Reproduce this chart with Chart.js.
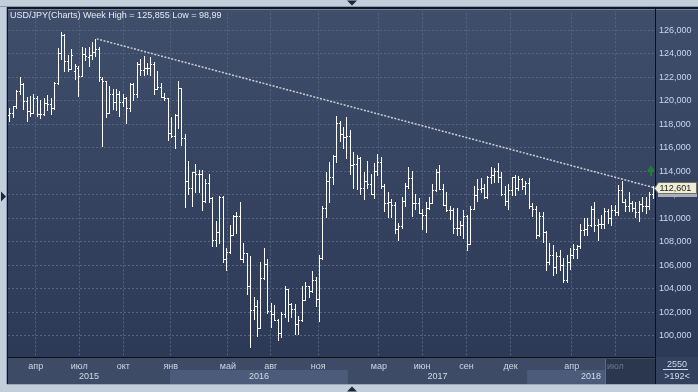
<!DOCTYPE html>
<html><head><meta charset="utf-8">
<script src="https://cdn.jsdelivr.net/npm/chart.js@4.4.1/dist/chart.umd.min.js"></script>
<style>html,body{margin:0;padding:0;background:#c3cedb;overflow:hidden}canvas{display:block}</style>
</head><body><canvas id="c" width="698" height="392"></canvas>
<script>
// ---- data (weekly OHLC, USD/JPY) ----
const opens = [118.8,119.0,119.6,120.8,121.4,120.0,119.1,119.0,120.2,118.9,118.9,119.8,119.7,119.4,121.5,124.1,125.6,123.4,122.7,122.5,
122.8,122.1,124.0,123.7,123.9,124.2,124.4,121.9,121.7,119.0,120.6,119.9,120.6,119.9,120.2,119.4,121.4,120.6,123.1,122.6,
122.8,122.8,123.1,121.0,121.2,120.3,120.2,117.3,117.0,118.8,121.1,116.8,113.2,112.6,113.9,113.8,113.8,111.5,113.0,111.7,
108.1,108.8,111.8,106.5,107.1,108.6,110.2,110.2,106.5,107.0,104.2,102.2,102.5,100.6,104.9,106.1,102.1,101.8,101.3,100.2,
101.8,104.0,102.7,102.3,101.0,101.3,103.0,104.2,103.8,104.7,103.1,106.6,110.9,113.2,113.5,115.3,118.1,117.2,116.9,117.0,
114.5,114.6,115.1,112.6,113.2,112.9,112.1,114.0,114.8,112.7,111.3,111.4,111.1,109.1,109.3,111.5,112.7,113.4,111.3,111.3,
110.4,110.3,110.9,111.3,112.4,113.9,112.5,111.1,110.7,110.7,109.2,109.2,109.4,110.2,107.8,110.8,112.0,112.5,112.6,111.8,
113.5,113.7,114.0,113.5,112.1,111.5,112.4,113.5,112.6,113.3,112.7,113.0,111.0,110.8,108.6,110.2,108.8,106.3,106.9,105.8,
106.8,106.0,104.7,106.3,106.9,107.4,107.6,109.0,109.1,109.4,110.8,109.4,109.5,109.5,110.6,110.0,110.7,110.5,112.4,111.4,
111.0,111.3,110.9,110.5,111.2,111.0,111.0,112.1];
const highs = [119.4,119.6,120.9,122.0,121.5,120.3,120.4,120.6,120.4,120.1,120.2,120.5,120.2,121.6,124.5,125.86,125.7,123.9,124.4,123.1,
123.0,124.6,124.5,124.6,125.0,125.28,124.6,122.0,121.7,121.3,121.0,121.0,120.8,120.6,120.3,121.5,121.5,123.3,123.6,123.8,
123.2,123.7,123.3,122.5,121.5,120.7,120.2,118.6,118.9,121.7,121.1,117.2,114.9,113.9,114.6,114.1,114.1,113.3,113.8,111.8,
109.8,111.9,111.9,107.5,109.4,110.3,110.5,111.4,107.9,107.0,106.8,103.3,103.0,106.3,107.5,106.5,102.8,102.6,101.4,102.0,
104.2,104.0,102.8,102.7,101.7,104.2,104.6,104.2,105.5,105.0,106.9,111.0,113.9,114.8,115.4,118.7,118.3,117.8,118.6,117.5,
115.6,115.4,115.2,113.9,114.9,113.8,114.7,115.5,115.2,112.9,112.2,111.6,111.4,109.6,111.8,113.0,114.4,114.0,112.1,111.7,
110.8,111.4,111.8,112.9,114.2,114.5,112.9,112.2,111.0,110.9,110.9,109.8,110.7,110.3,111.0,112.7,113.3,113.4,112.9,113.6,
114.4,114.3,114.73,113.9,112.7,112.9,113.5,113.7,113.6,113.4,113.2,113.4,111.3,111.0,110.5,110.5,108.9,107.9,107.7,107.1,
107.3,106.6,106.9,107.5,107.8,107.7,109.5,110.0,110.0,111.0,111.4,109.9,110.3,110.9,110.8,111.1,111.1,112.8,113.17,111.6,
112.2,111.5,111.4,111.5,111.8,111.8,112.2,112.75];
const lows = [118.3,118.6,119.4,120.6,119.3,118.3,118.7,119.0,118.7,118.5,118.8,119.2,118.9,119.3,121.4,123.6,122.5,122.5,122.7,121.9,
120.4,122.1,123.5,123.0,123.6,123.8,121.7,116.15,118.6,119.0,119.3,119.2,118.7,119.6,118.1,119.1,120.1,120.3,122.2,122.2,
122.3,122.2,120.6,121.0,120.3,120.1,116.7,116.9,115.97,117.7,116.2,110.99,112.1,111.0,112.2,112.2,110.7,111.4,111.4,107.6,
107.6,107.9,106.3,105.55,107.0,108.6,108.7,106.5,106.3,103.55,98.99,101.4,99.99,100.6,104.8,101.9,100.7,101.3,99.6,99.9,
101.6,101.2,101.6,100.1,100.1,101.2,103.0,103.3,103.7,102.5,101.2,106.5,110.1,111.4,112.9,114.8,116.6,116.0,115.1,113.8,
112.6,112.5,112.1,111.6,112.6,112.1,111.7,113.7,112.6,110.6,110.1,110.1,108.7,108.1,109.2,111.0,112.6,110.2,110.8,110.4,
109.1,108.8,110.8,111.3,112.3,112.5,111.1,110.6,109.9,108.7,108.6,108.6,108.3,107.3,107.8,110.8,111.5,112.2,111.7,111.7,
113.0,113.1,113.1,112.0,111.1,110.8,112.0,112.0,112.4,112.5,112.1,110.9,110.2,108.3,108.5,108.0,105.55,106.1,105.2,105.3,
105.6,104.6,104.6,105.7,106.6,106.6,107.5,108.6,108.6,109.3,108.9,108.1,109.2,109.2,109.6,109.4,110.3,110.3,111.4,110.6,
110.6,110.6,110.1,109.8,110.6,110.4,110.8,111.7];
const closes = [119.0,119.6,120.8,121.4,120.0,119.1,119.0,120.2,118.9,118.9,119.8,119.7,119.4,121.5,124.1,125.6,123.4,122.7,123.9,123.0,
122.1,124.0,123.8,123.9,124.2,124.4,122.0,121.7,119.0,120.6,119.9,120.6,119.9,120.2,119.4,121.4,120.6,123.1,122.6,122.8,
122.8,123.1,121.0,121.2,120.3,120.2,117.3,117.0,118.8,121.1,116.8,113.2,112.6,113.9,113.8,113.8,111.5,113.0,111.7,108.1,
108.8,111.8,106.5,107.1,108.6,110.2,110.2,106.5,107.0,104.2,102.2,102.5,100.6,104.9,106.1,102.1,101.8,101.3,100.2,101.8,
104.0,102.7,102.3,101.0,101.3,103.0,104.2,103.8,104.7,103.1,106.6,110.9,113.2,113.5,115.3,118.1,117.2,116.9,117.0,114.5,
114.6,115.1,112.6,113.2,112.9,112.1,114.0,114.8,112.7,111.3,111.4,111.1,109.1,109.3,111.5,112.7,113.4,111.3,111.3,110.4,
110.3,110.9,111.3,112.4,113.9,112.5,111.1,110.7,110.7,109.2,109.2,109.4,110.2,107.8,110.8,112.0,112.5,112.6,111.8,113.5,
113.7,114.0,113.5,112.1,111.5,112.4,113.5,112.6,113.3,112.7,113.0,111.0,110.8,108.6,110.2,108.8,106.3,106.9,105.8,106.8,
106.0,104.7,106.3,106.9,107.4,107.6,109.0,109.1,109.4,110.8,109.4,109.5,109.5,110.6,110.0,110.7,110.5,112.4,111.4,111.0,
111.3,110.9,110.5,111.2,111.0,111.0,112.1,112.6];

const monthTickPos = [7.65,20.3,33.1,46.9,63.5,76.0,89.8,107.4,120.0,132.9,145.7,163.5,176.2];
const monthLabels = ['апр','июл','окт','янв','май','авг','ноя','мар','июн','сен','дек','апр','июл'];
const yearStarts = [46.7,98.4,150.5];
const yearLabels = ['2015','2016','2017','2018'];
const highlightStart = 173.1;
const yTickValues = [100,102,104,106,108,110,112,114,116,118,120,122,124,126];
const trendX = [25.4,187.7];
const trendY = [125.28,112.58];
const lastPrice = 112.601;
const shadowPrice = 112.28;
const titleText = 'USD/JPY(Charts) Week High = 125,855 Low = 98,99';
const cornerTop = '2550', cornerBottom = '>192<';

const X_MIN = -0.41, X_MAX = 187.7, Y_MIN = 98.17, Y_MAX = 127.79;
const FONT = '9px "Liberation Sans", Arial, sans-serif';
const fmt = v => v.toFixed(3).replace('.', ',');

const bgPlugin = {
  id: 'bg',
  beforeDraw(chart) {
    const ctx = chart.ctx, a = chart.chartArea, W = chart.width, H = chart.height;
    const xs = chart.scales.x;
    ctx.save();
    ctx.fillStyle = '#c3cedb'; ctx.fillRect(0, 0, W, H);
    const g = ctx.createLinearGradient(0, a.top, 0, a.bottom);
    g.addColorStop(0, '#3f4e6b'); g.addColorStop(1, '#2c3957');
    ctx.fillStyle = g; ctx.fillRect(a.left, a.top, W - a.left, a.bottom - a.top);
    const axB = 384;
    // bottom axis rows
    ctx.fillStyle = '#3e4b67'; ctx.fillRect(a.left, a.bottom, W - a.left, axB - a.bottom);
    const bounds = [X_MIN].concat(yearStarts).concat([X_MAX]);
    for (let i = 0; i < bounds.length - 1; i++) {
      if (i % 2 === 1) {
        const x0 = xs.getPixelForValue(bounds[i]), x1 = xs.getPixelForValue(bounds[i + 1]);
        ctx.fillStyle = '#4c5b79'; ctx.fillRect(x0, 370, x1 - x0, axB - 370);
      }
    }
    // highlight box
    const hx = Math.round(xs.getPixelForValue(highlightStart));
    ctx.fillStyle = '#2b374f'; ctx.fillRect(hx, 359, a.right - hx, axB - 359);
    ctx.fillStyle = '#5d6c88'; ctx.fillRect(hx, 359, 1, axB - 359);
    // right-bottom corner
    ctx.fillStyle = '#34415e'; ctx.fillRect(a.right, a.bottom, W - a.right, axB - a.bottom);
    // frame lines
    ctx.fillStyle = '#8d9bb0'; ctx.fillRect(0, 6, W, 1); ctx.fillRect(6, 6, 1, axB - 6);
    ctx.fillStyle = '#111722'; ctx.fillRect(7, 7, W - 7, 2); ctx.fillRect(7, 7, 1, axB - 7);
    ctx.fillStyle = '#9aa8bb'; ctx.fillRect(7, axB, W - 7, 1);
    // arrows
    ctx.fillStyle = '#1c2638';
    ctx.beginPath(); ctx.moveTo(347, 0.5); ctx.lineTo(357, 0.5); ctx.lineTo(352, 5.5); ctx.fill();
    ctx.beginPath(); ctx.moveTo(347, 391.5); ctx.lineTo(357, 391.5); ctx.lineTo(352, 386.5); ctx.fill();
    ctx.beginPath(); ctx.moveTo(1, 191.5); ctx.lineTo(1, 201.5); ctx.lineTo(6, 196.5); ctx.fill();
    ctx.restore();
  }
};

const fgPlugin = {
  id: 'fg',
  afterDatasetsDraw(chart) {
    const ctx = chart.ctx, a = chart.chartArea, W = chart.width;
    const xs = chart.scales.x, ys = chart.scales.y;
    ctx.save();
    // OHLC bars
    ctx.beginPath(); ctx.rect(a.left, a.top, a.right - a.left, a.bottom - a.top); ctx.clip();
    ctx.fillStyle = '#ffffff';
    for (let i = 0; i < closes.length; i++) {
      const px = Math.round(xs.getPixelForValue(i));
      const yh = Math.round(ys.getPixelForValue(highs[i]));
      const yl = Math.round(ys.getPixelForValue(lows[i]));
      const yo = Math.round(ys.getPixelForValue(opens[i]));
      const yc = Math.round(ys.getPixelForValue(closes[i]));
      ctx.fillRect(px, yh, 1, Math.max(1, yl - yh + 1));
      ctx.fillRect(px - 1, yo, 1, 1);
      ctx.fillRect(px + 1, yc, 1, 1);
    }
    ctx.restore();
    ctx.save();
    // separators
    ctx.fillStyle = '#0c1018';
    ctx.fillRect(a.left, a.bottom, a.right - a.left, 1);
    ctx.fillRect(a.right, 7, 1, 384 - 7);
    // title
    ctx.font = FONT; ctx.fillStyle = '#e4eaf3'; ctx.textBaseline = 'alphabetic'; ctx.textAlign = 'left';
    ctx.fillText(titleText, 10, 17.5);
    // year labels
    const bounds = [X_MIN].concat(yearStarts).concat([X_MAX]);
    ctx.textAlign = 'center'; ctx.textBaseline = 'middle'; ctx.fillStyle = '#d0dae8';
    for (let i = 0; i < yearLabels.length; i++) {
      const x0 = xs.getPixelForValue(bounds[i]), x1 = xs.getPixelForValue(bounds[i + 1]);
      ctx.fillText(yearLabels[i], (x0 + x1) / 2, 377);
    }
    // corner texts
    ctx.fillStyle = '#d0dae8';
    ctx.fillText(cornerTop, 677, 365);
    ctx.fillRect(663, 369, 25, 1);
    ctx.fillText(cornerBottom, 677, 377);
    // green arrow
    ctx.fillStyle = '#1f7f30';
    ctx.beginPath(); ctx.moveTo(647, 171); ctx.lineTo(655, 171); ctx.lineTo(651, 165.5); ctx.fill();
    ctx.fillRect(650, 171, 2, 5);
    // shadow price label
    const ys2 = Math.round(ys.getPixelForValue(shadowPrice));
    ctx.fillStyle = '#aab1bd'; ctx.fillRect(658, ys2 - 6, 39, 12);
    ctx.fillStyle = '#5b6272'; ctx.textAlign = 'left';
    ctx.fillText(fmt(shadowPrice), 660, ys2);
    // price label
    const yp = Math.round(ys.getPixelForValue(lastPrice));
    ctx.beginPath();
    ctx.moveTo(654.5, yp + 0.5); ctx.lineTo(658.5, yp - 5.5); ctx.lineTo(696.5, yp - 5.5);
    ctx.lineTo(696.5, yp + 5.5); ctx.lineTo(658.5, yp + 5.5); ctx.closePath();
    ctx.fillStyle = '#efecd6'; ctx.fill();
    ctx.strokeStyle = '#6f6f66'; ctx.lineWidth = 1; ctx.stroke();
    ctx.fillStyle = '#1e1e1e'; ctx.textBaseline = 'middle';
    ctx.fillText(fmt(lastPrice), 659.5, yp + 0.5);
    ctx.restore();
  }
};

new Chart(document.getElementById('c'), {
  type: 'line',
  data: {
    datasets: [{
      data: trendX.map((x, i) => ({x, y: trendY[i]})),
      borderColor: '#c9cdd6', borderWidth: 1.5, borderDash: [2, 1.5],
      pointRadius: 0, fill: false, tension: 0
    }]
  },
  options: {
    responsive: false, animation: false, devicePixelRatio: 1,
    layout: {padding: {left: 8, top: 9, right: 0, bottom: 0}},
    plugins: {legend: {display: false}, tooltip: {enabled: false}, title: {display: false}},
    scales: {
      x: {
        type: 'linear', position: 'bottom', min: X_MIN, max: X_MAX,
        afterFit: s => { s.height = 35; },
        afterBuildTicks: s => { s.ticks = monthTickPos.map(v => ({value: v})); },
        ticks: {
          autoSkip: false, maxRotation: 0, padding: 4, font: {family: '"Liberation Sans", Arial, sans-serif', size: 9},
          color: c => (monthTickPos[c.index] >= highlightStart ? '#66748f' : '#ccd6e6'),
          callback: (v, i) => monthLabels[i]
        },
        grid: {color: '#55647f', lineWidth: 1, drawTicks: false},
        border: {display: false, dash: [2, 2]}
      },
      y: {
        type: 'linear', position: 'right', min: Y_MIN, max: Y_MAX,
        afterFit: s => { s.width = 43; },
        afterBuildTicks: s => { s.ticks = yTickValues.map(v => ({value: v})); },
        ticks: {padding: 4, font: {family: '"Liberation Sans", Arial, sans-serif', size: 9}, color: '#c9d8ee',
          callback: v => fmt(v)},
        grid: {color: '#55647f', lineWidth: 1, drawTicks: false},
        border: {display: false, dash: [2, 2]}
      }
    }
  },
  plugins: [bgPlugin, fgPlugin]
});
</script>
</body></html>
